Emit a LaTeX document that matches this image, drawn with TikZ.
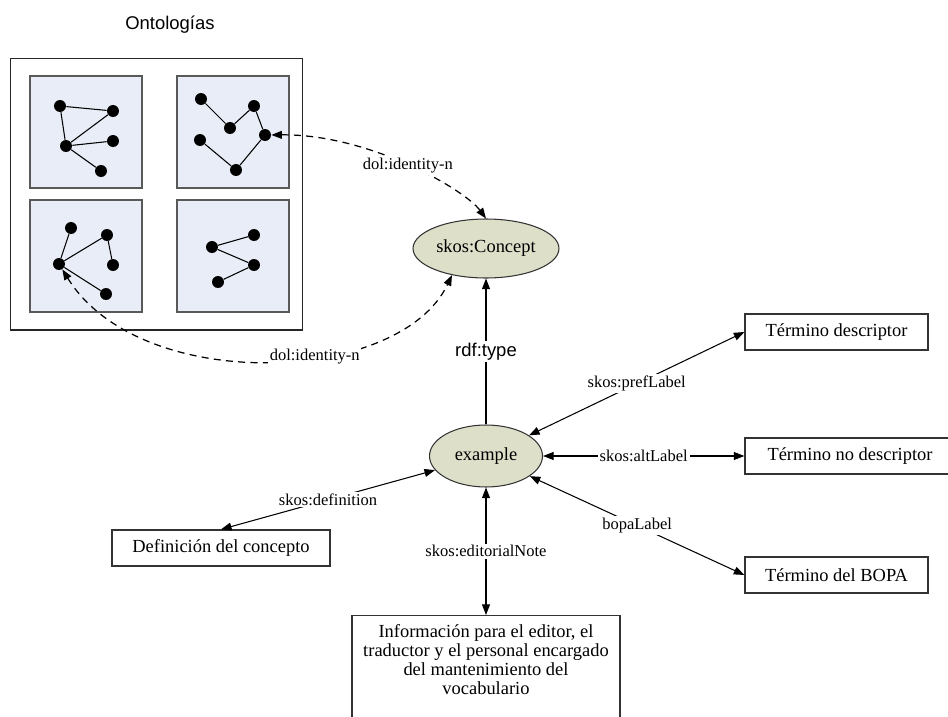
\documentclass[tikz,border=0pt]{standalone}
\usepackage{fontspec}
\setmainfont{Liberation Serif}
\setsansfont{Liberation Sans}
\usetikzlibrary{arrows.meta,shapes.geometric}

\definecolor{ontofill}{RGB}{233,237,247}
\definecolor{classfill}{RGB}{221,223,201}

\tikzset{
  dot/.style={circle, fill=black, inner sep=0pt, minimum size=0.24cm},
  ontobox/.style={draw=black!65, line width=0.8pt, fill=ontofill, minimum size=2.24cm},
  resource/.style={ellipse, draw=black!80, line width=0.6pt, fill=classfill,
    inner sep=0pt, font=\fontsize{10.5}{12}\selectfont},
  literal/.style={draw=black!80, line width=0.7pt, minimum height=0.72cm,
    inner sep=2pt, font=\fontsize{10.5}{12}\selectfont},
  prop/.style={fill=white, inner sep=1pt, font=\fontsize{9.4}{11}\selectfont},
  rel/.style={<->, line width=0.6pt},
  link/.style={<->, line width=0.7pt, dash pattern=on 4pt off 3pt},
  >={Triangle[length=6pt,width=4.5pt]}
}

\begin{document}
\begin{tikzpicture}[x=0.02cm, y=-0.02cm]
    \useasboundingbox (0,0) rectangle (948,717);

    % Ontologies frame
    \node[font=\sffamily\fontsize{10.5}{12}\selectfont] (ontotitle) at (170,25) {Ontologías};
    \node[draw=black!85, line width=0.6pt, minimum width=5.86cm, minimum height=5.44cm] (ontoframe) at (156.5,194) {};
    \node[ontobox] (ontoA) at (86,132)  {};
    \node[ontobox] (ontoB) at (233,132) {};
    \node[ontobox] (ontoC) at (86,256)  {};
    \node[ontobox] (ontoD) at (233,256) {};

    % Small graphs inside each ontology
    \foreach \n/\p in {a1/{60,106}, a2/{113,111}, a3/{66,146}, a4/{113,141}, a5/{101,171},
                       b1/{201,99}, b2/{254,106}, b3/{230,128}, b4/{265,135}, b5/{200,140}, b6/{236,170},
                       c1/{71,228}, c2/{107,235}, c3/{59,264}, c4/{113,265}, c5/{106,294},
                       d1/{212,247}, d2/{254,235}, d3/{254,265}, d4/{218,282}}
        \node[dot] (\n) at (\p) {};
    \foreach \u/\v in {a1/a2, a1/a3, a3/a2, a3/a4, a3/a5,
                       b1/b3, b3/b2, b2/b4, b4/b6, b6/b5,
                       c3/c1, c3/c2, c2/c4, c3/c5,
                       d1/d2, d1/d3, d3/d4}
        \draw[line width=0.6pt] (\u) -- (\v);

    % Concept and its instance
    \node[resource, minimum width=2.92cm, minimum height=1.18cm] (concept) at (486,248.5) {skos:Concept};
    \node[resource, minimum width=2.26cm, minimum height=1.24cm] (example) at (486,456) {example};

    % Literal values
    \node[literal, minimum width=3.66cm] (tdesc)   at (836.5,332) {Término descriptor};
    \node[literal, minimum width=4.20cm] (tnodesc) at (850,456)   {Término no descriptor};
    \node[literal, minimum width=3.66cm] (tbopa)   at (836.5,575) {Término del BOPA};
    \node[literal, minimum width=4.36cm] (defi)    at (221,548)   {Definición del concepto};
    \node[literal, anchor=north, minimum width=5.36cm, align=center, inner ysep=5pt,
          font=\fontsize{10.5}{10.8}\selectfont] (info) at (486,615)
        {Información para el editor, el\\traductor y el personal encargado\\del mantenimiento del\\vocabulario\\[6pt]\mbox{}};

    % Relations
    \draw[->, line width=0.6pt] (example) -- (concept)
        node[midway, fill=white, inner sep=1pt, font=\sffamily\fontsize{10.5}{12}\selectfont] {rdf:type};
    \draw[rel] (example) -- (tdesc.west)   node[midway, prop] {skos:prefLabel};
    \draw[rel] (example) -- (tnodesc.west) node[midway, prop] {skos:altLabel};
    \draw[rel] (example) -- (tbopa.west)   node[midway, prop] {bopaLabel};
    \draw[rel] (example) -- (defi.north)   node[midway, prop] {skos:definition};
    \draw[rel] (example) -- (info.north)   node[midway, prop] {skos:editorialNote};

    % Identity links to the ontologies
    \draw[link] (b4) .. controls (370,134) and (465,190) .. (concept.north)
        node[pos=0.5, prop] {dol:identity-n};
    \draw[link] (c3) .. controls (140,395) and (400,385) .. (concept.218)
        node[pos=0.6, prop] {dol:identity-n};
\end{tikzpicture}
\end{document}
